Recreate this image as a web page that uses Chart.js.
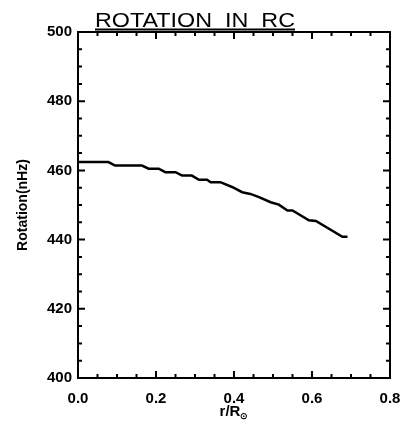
<!DOCTYPE html>
<html>
<head>
<meta charset="UTF-8">
<title>Rotation in RC</title>
<script src="https://cdn.jsdelivr.net/npm/chart.js"></script>
<style>
  html, body { margin: 0; padding: 0; background: #fff; }
  #wrap { width: 404px; height: 426px; }
</style>
</head>
<body>
<div id="wrap"><canvas id="myChart" width="404" height="426"></canvas></div>
<script>
// data
const rVals = [0, 0.078, 0.095, 0.164, 0.181, 0.207, 0.224, 0.25, 0.267, 0.292, 0.31, 0.331, 0.34,
               0.365, 0.395, 0.421, 0.442, 0.464, 0.494, 0.515, 0.537, 0.55, 0.592, 0.61, 0.678, 0.691];
const rotVals = [462.4, 462.4, 461.4, 461.4, 460.5, 460.5, 459.5, 459.5, 458.5, 458.5, 457.3, 457.3, 456.6,
                 456.6, 455.2, 453.7, 453.2, 452.3, 450.8, 450.1, 448.4, 448.4, 445.6, 445.4, 440.8, 440.8];
const xTicks = [0, 0.2, 0.4, 0.6, 0.8];
const yTicks = [400, 420, 440, 460, 480, 500];
const titleText = 'ROTATION  IN  RC';

const fam = 'Liberation Sans, Arial, sans-serif';
const tickFont = { family: fam, size: 15, weight: 'bold' };

// frame, inward ticks on all four sides, underlined title, x label with subscript
const framePlugin = {
    id: 'frame',
    afterDraw(chart) {
        const ctx = chart.ctx;
        const a = chart.chartArea;
        const xs = chart.scales.x, ys = chart.scales.y;
        ctx.save();
        ctx.strokeStyle = '#000';
        ctx.lineWidth = 2;
        ctx.strokeRect(a.left, a.top, a.right - a.left, a.bottom - a.top);

        // x ticks: minor every 0.05, major every 0.2
        for (let i = 0; i <= 16; i++) {
            const px = xs.getPixelForValue(i * 0.05);
            const len = (i % 4 === 0) ? 7 : 4;
            ctx.beginPath();
            ctx.moveTo(px, a.bottom); ctx.lineTo(px, a.bottom - len);
            ctx.moveTo(px, a.top); ctx.lineTo(px, a.top + len);
            ctx.stroke();
        }
        // y ticks: minor every 5, major every 20
        for (let i = 0; i <= 20; i++) {
            const py = ys.getPixelForValue(400 + i * 5);
            const len = (i % 4 === 0) ? 7 : 4;
            ctx.beginPath();
            ctx.moveTo(a.left, py); ctx.lineTo(a.left + len, py);
            ctx.moveTo(a.right, py); ctx.lineTo(a.right - len, py);
            ctx.stroke();
        }

        // title, stretched a bit like the original lettering
        ctx.fillStyle = '#000';
        ctx.font = '20px ' + fam;
        ctx.textAlign = 'left';
        ctx.textBaseline = 'alphabetic';
        const w = ctx.measureText(titleText).width;
        const sx = 200 / w;
        ctx.save();
        ctx.translate(95, 27);
        ctx.scale(sx, 1);
        ctx.fillText(titleText, 0, 0);
        ctx.restore();
        ctx.lineWidth = 2;
        ctx.beginPath();
        ctx.moveTo(95, 29.5); ctx.lineTo(295, 29.5);
        ctx.stroke();

        // x axis label r/R with sun subscript
        ctx.font = 'bold 15px ' + fam;
        const main = 'r/R';
        const mw = ctx.measureText(main).width;
        ctx.font = 'bold 9px ' + fam;
        const subw = ctx.measureText('\u2299').width;
        const x0 = (a.left + a.right) / 2 - (mw + subw) / 2;
        ctx.font = 'bold 15px ' + fam;
        ctx.fillText(main, x0, 416);
        ctx.font = 'bold 9px ' + fam;
        ctx.fillText('\u2299', x0 + mw, 419);
        ctx.restore();
    }
};

new Chart(document.getElementById('myChart'), {
    type: 'line',
    data: {
        datasets: [{
            data: rVals.map((r, i) => ({ x: r, y: rotVals[i] })),
            borderColor: '#000',
            borderWidth: 2.5,
            pointRadius: 0,
            tension: 0,
            fill: false
        }]
    },
    options: {
        responsive: false,
        animation: false,
        layout: { padding: { left: 0, right: 14, top: 32, bottom: 0 } },
        plugins: { legend: { display: false }, tooltip: { enabled: false } },
        scales: {
            x: {
                type: 'linear', min: 0, max: 0.8,
                afterBuildTicks: s => { s.ticks = xTicks.map(v => ({ value: v })); },
                grid: { display: false, drawTicks: false },
                border: { display: false },
                ticks: { color: '#000', font: tickFont, padding: 12, maxRotation: 0,
                         callback: v => v.toFixed(1) },
                afterFit: s => { s.height = 48; s.paddingLeft = 0; s.paddingRight = 0; }
            },
            y: {
                type: 'linear', min: 400, max: 500,
                afterBuildTicks: s => { s.ticks = yTicks.map(v => ({ value: v })); },
                grid: { display: false, drawTicks: false },
                border: { display: false },
                ticks: { color: '#000', font: tickFont, padding: 6 },
                title: { display: true, text: 'Rotation(nHz)', color: '#000', padding: { top: 15, bottom: 0 },
                         font: { family: fam, size: 14, weight: 'bold' } },
                afterFit: s => { s.width = 78; s.paddingTop = 0; s.paddingBottom = 0; }
            }
        }
    },
    plugins: [framePlugin]
});
</script>
</body>
</html>
